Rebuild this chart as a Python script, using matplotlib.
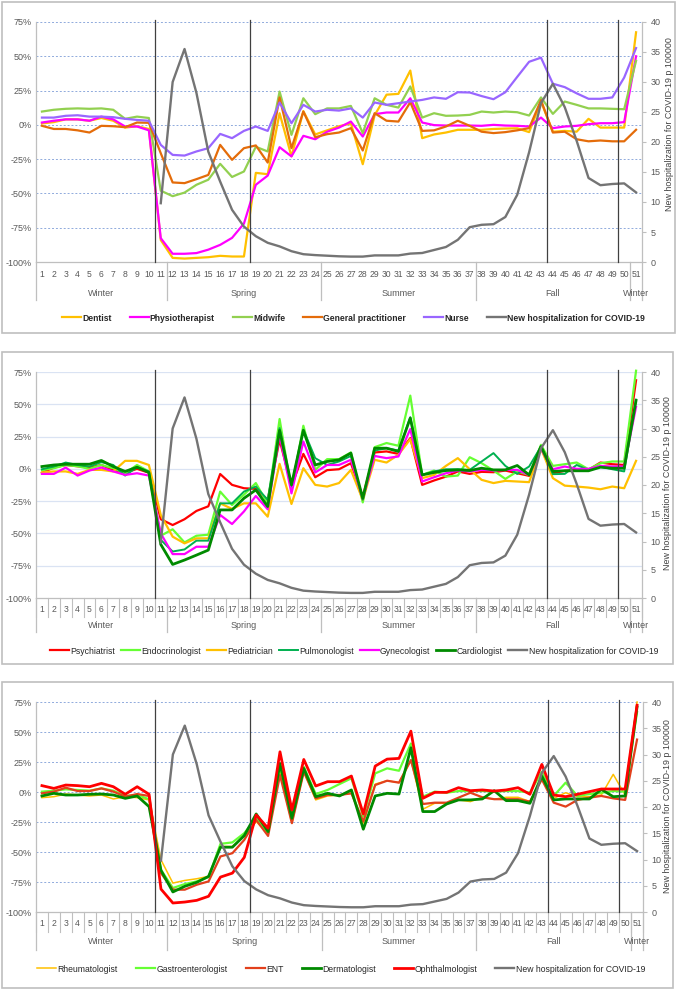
import numpy as np
import matplotlib
matplotlib.use('Agg')
import matplotlib.pyplot as plt
import matplotlib.transforms as mtransforms
from matplotlib.patches import Rectangle

plt.rcParams['font.family'] = ['Liberation Sans', 'DejaVu Sans']

W, H = 678, 991
nan = np.nan

# ---- data ----
weeks = list(range(1, 52))
seasons = ['Winter', 'Spring', 'Summer', 'Fall', 'Winter']
season_edges = [0.5, 11.5, 24.5, 37.5, 50.5, 51.5]
cut_weeks = [10.5, 18.5, 43.5, 49.5]
hosp_label = 'New hospitalization for COVID-19'
hosp_axis_label = 'New hospitalization for COVID-19 p 100000'

hospitalization = [nan] * 10 + [
    9.8, 30.0, 35.5, 28.2, 18.4, 13.4, 8.7, 5.9, 4.3, 3.2,
    2.6, 1.8, 1.3, 1.15, 1.05, 0.95, 0.9, 0.9, 1.1, 1.1,
    1.1, 1.4, 1.5, 2.0, 2.5, 3.7, 5.8, 6.2, 6.3, 7.5,
    11.2, 18.3, 26.5, 29.7, 25.8, 20.2, 14.0, 12.8, 13.0, 13.1,
    11.6]

# panel 1
dentist = [1, 2, 4, 4, 3, 5, 3, -2, -1, -3,
           -84, -97, -97.5, -97, -96.5, -95.5, -96, -96, -35, -36,
           8.5, -23, 10, -7, -4, -1, 1, -28.7, 7, 22,
           22.6, 39.6, -9.7, -7, -5.6, -3.6, -3.6, -3.6, -3, -2.7,
           -2.5, -5.3, 17, -5, -4.4, -5, 4.4, -2, -2, -2,
           67.5]
physiotherapist = [1.7, 3, 4, 4, 3, 6, 4, -1.2, -1.2, -4,
                   -82.6, -94, -94, -93.5, -91, -87.5, -82.4, -72, -43.7, -37,
                   -16.3, -23, -8, -10.5, -5, -2, 2.4, -8.5, 7.8, 9,
                   9, 19.4, 1.7, -0.2, -0.5, -0.5, -0.5, -0.7, 0, -0.5,
                   -0.7, -1.2, 5.3, -2.4, -1.2, -0.7, 0.5, 1.2, 1.2, 2,
                   50]
midwife = [9.7, 11, 11.7, 12, 11.7, 12, 11, 4.4, 6, 5,
           -48, -52, -49.4, -43.7, -40, -28.4, -38, -34, -16, -19.4,
           24.3, -7.3, 19.4, 7.8, 12, 12, 13.8, -6, 19.4, 14.6,
           12.6, 28, 5.3, 8.5, 6.6, 6.8, 7.3, 9.7, 9, 9.7,
           9.2, 6.8, 20, 8, 17, 14.6, 12, 12, 11.7, 11.4,
           46.7]
general_practitioner = [-0.7, -3, -3, -4, -5.6, -0.7, -1, -1.7, 1.7, 1.5,
                        -20.7, -42, -42.5, -39.6, -36.5, -14.6, -25.5, -17, -15, -27.5,
                        20, -17, 9.7, -9, -6.8, -5.6, -2.4, -18.7, 8.5, 3,
                        2.4, 16.5, -4.4, -4, -1.2, 3, -0.7, -5, -6, -5.3,
                        -4, -2.4, 18, -5.6, -5, -10.5, -12, -11.4, -12, -12,
                        -3.6]
nurse = [5.3, 5.3, 6.6, 7, 6, 6, 5.6, 4.4, 3.6, 3,
         -14.6, -21.9, -22.4, -19.4, -17, -6.6, -9.7, -4.4, -1.2, -4.4,
         16.3, 1.2, 14.6, 9.7, 11, 10.4, 12, 5.3, 16.3, 14.6,
         15.8, 17, 18.2, 20, 19, 23.8, 23.6, 21, 18.7, 23.8,
         35, 46, 49, 30, 27.5, 23, 19, 19, 20, 34.5,
         56]

# panel 2
psychiatrist = [-3, 1, 3, 2, 1, 3, -1, -3, 0, -3,
                -39, -43.5, -39, -32.6, -29, -4, -12.4, -15, -15.5, -24,
                22.5, -13.7, 11.6, -6.5, -1, -0.3, 4.4, -21.5, 12.7, 13.5,
                11.6, 23.8, -12.4, -9, -6, -2, -3.9, -2.3, -2.6, -1.3,
                -3.4, -5.4, 16, -3.4, -1.5, -0.8, -0.8, 4.9, 3.6, 3,
                68.6]
endocrinologist = [-1, 0.5, 3, 2, 0, 3, 0.5, -3.4, 3, -2,
                   -51.8, -46.8, -57, -51.8, -51, -17.6, -28, -20, -11, -27,
                   38.6, -16.3, 33.4, -0.8, 7.5, 7.5, 12.7, -26, 16.8, 20,
                   17.9, 56.7, -4.7, -1.3, -6, -5.2, 9, 4.4, -1.3, -7.8,
                   -2, -4.7, 18.6, 2.3, 3.6, 4.9, -0.3, 4.4, 5.7, 5.7,
                   76]
pediatrician = [-2.8, -2, -2, -3.9, -0.8, -0.8, -2, 6.2, 6.2, 3,
                -35.7, -52.5, -57.7, -53.8, -53.8, -26.7, -31, -26.7, -26.7, -37,
                3.9, -27.2, 0.5, -12.4, -13.7, -11, -0.8, -24, 7, 4.9,
                10.9, 23, -7.2, -4.7, 2.3, 8.3, -0.3, -8.5, -11, -9.3,
                -9.8, -10.3, 16, -7.2, -13, -13.7, -14.5, -15.8, -13.7, -15,
                6.2]
pulmonologist = [-0.3, 1.8, 4.9, 3, 1.8, 5.2, 3, -5.2, 1.3, -2,
                 -55, -64, -62.4, -55.6, -55.6, -26.7, -26.7, -17.6, -13.7, -24,
                 31.6, -13.7, 30.3, 8.3, 3, 5.7, 10, -24, 14.2, 16,
                 14.2, 40, -4.7, -2, -0.3, -0.3, -0.8, 5.7, 12.2, 2.3,
                 -3.9, 1.8, 17.3, -4.1, -3.9, 3, -0.8, 1.8, -0.3, -2,
                 53.6]
gynecologist = [-3.9, -3.9, 1, -5.2, -1.3, 1, -2, -4.7, -3.4, -5.2,
                -50, -66, -66, -60.3, -60.3, -35.7, -42.7, -33, -21, -31.3,
                26.4, -19, 21.2, -2.8, 3, 3, 7, -22.8, 10, 8.3,
                9.6, 30.8, -9.8, -6.5, -3.4, -1.3, -2, -0.8, -1.3, -0.8,
                -0.8, -4.7, 15.5, -0.3, 1.8, 0, 0, 2.3, 1.8, 1.8,
                48]
cardiologist = [1.8, 3, 3.6, 3.6, 3.6, 6.5, 1.8, -2, 1.3, -2.8,
                -58.5, -74, -70.6, -66.8, -62.9, -31.8, -31.8, -22.8, -16.3, -29.2,
                29.8, -12.4, 29.8, 3, 5.7, 7, 12.2, -22.8, 16, 16,
                13.5, 39.3, -4.7, -2.8, -1.3, -0.8, -1.3, 0.5, -0.8, -0.8,
                2.6, -4.7, 17.3, -2, -1.5, -1.5, -1.5, 1.3, 0.5, 0.5,
                53]

# panel 3
rheumatologist = [-4.7, -3.9, -1.7, -2.5, -3.3, -2.5, -5.8, -3.9, -4.7, -6.6,
                  -56.5, -75.9, -73.7, -72.3, -70.3, -45.4, -45.4, -37, -24.6, -34.9,
                  16.9, -26, 16.9, -6.6, -3.3, -2.5, -1.1, -26, 6.6, 9.4,
                  7.8, 26.6, -14.4, -9.4, -9.4, -6.6, -8, -4.4, -6, -4.4,
                  -4.4, -8, 11.4, -5.3, -0.6, -3.9, -3.9, -2.5, 14.7, -2.5,
                  75]
gastroenterologist = [0.3, 1.1, 2.2, 1.7, 1.1, 3, 1.1, -3.3, -2.5, -6,
                      -64.8, -80, -76.7, -74.5, -70.9, -43.2, -42, -34.3, -21.9, -34.3,
                      21, -17.7, 21, -1.7, 1.7, 6.6, 11.4, -20.5, 15.5, 19.7,
                      17.7, 40.4, -3.9, 0.3, -0.6, 0.8, 0.8, 0.8, 0.3, 0.8,
                      0.8, -0.6, 16.9, -3.3, 7.8, -3.3, -1.7, -0.6, 0.8, 0.3,
                      66.7]
ent = [-1.1, 0.3, 3.6, 0.8, 0.8, 3, 0.3, -3.9, -1.7, -3.3,
       -67.6, -81.4, -81.4, -77.3, -74.5, -53.7, -51, -39.9, -23.3, -36.6,
       14.1, -26, 16.9, -5.3, -2.5, -2.5, -1.1, -24.6, 5.8, 9.4,
       7.8, 26.6, -10, -8.9, -8.9, -4.7, -0.6, -4.4, -6, -6,
       -6, -8, 10.5, -8.9, -12.2, -6.6, -4.7, -3.3, -5.3, -6.6,
       43.7]
dermatologist = [-3.3, -1.1, -2.5, -2.5, -1.9, -1.7, -2.5, -5.3, -3.3, -12.2,
                 -65.3, -83.3, -78.6, -75.3, -70.3, -46, -46, -36.3, -18.3, -33,
                 23.8, -21.9, 19.7, -3.9, -1.1, -3.3, 1.7, -31, -3.3, -1.1,
                 -1.7, 36.8, -16.3, -16.3, -10, -6.6, -6.6, -5.8, 1.1, -7.2,
                 -7.2, -9.4, 13.3, -6.6, -5.8, -5.8, -5.8, 2.2, -3.9, -3.3,
                 70.9]
ophthalmologist = [5.3, 3, 5.8, 5.3, 4.4, 7.2, 4.4, -1.9, 4.4, -1.9,
                   -80.9, -92.5, -91.7, -90.3, -86.9, -70.9, -67.6, -54.5, -19.1, -30.2,
                   33.5, -15, 27.1, 5, 8.6, 8.6, 13.3, -18.3, 21.6, 27.4,
                   28, 50.7, -5.3, -0.3, -0.3, 3.6, 1.1, 1.7, 0.8, 1.7,
                   3.6, -1.9, 23, -2.5, -3.9, -1.9, 0.3, 2.5, 2.5, 2.5,
                   72.3]

panels = [
    dict(names=['Dentist', 'Physiotherapist', 'Midwife', 'General practitioner', 'Nurse'],
         values=[dentist, physiotherapist, midwife, general_practitioner, nurse],
         colors=['#FFC000', '#FF00FF', '#92D050', '#E46C0A', '#9966FF'],
         widths=[1.6, 1.6, 1.6, 1.6, 1.6],
         plot=(36, 22, 642, 262), box=(2, 2, 675, 333),
         num_y=275, season_y=293, season_bot=300, tick_bot=None,
         legend=(62, 645, 318), bold=True, ylab=(670, 0.575),
         grid=dict(color='#8FAADC', ls=(0, (2, 2)), lw=0.7)),
    dict(names=['Psychiatrist', 'Endocrinologist', 'Pediatrician', 'Pulmonologist',
                'Gynecologist', 'Cardiologist'],
         values=[psychiatrist, endocrinologist, pediatrician, pulmonologist,
                 gynecologist, cardiologist],
         colors=['#FF0000', '#66FF33', '#FFC000', '#00B050', '#FF00FF', '#008A00'],
         widths=[1.6, 1.6, 1.6, 1.4, 1.6, 2.0],
         plot=(36, 372, 642, 598), box=(2, 352, 673, 664),
         num_y=610, season_y=626, season_bot=632, tick_bot=617,
         legend=(50, 658, 651), bold=False, ylab=(667, 0.51),
         grid=dict(color='#DAE3F3', ls='-', lw=0.9)),
    dict(names=['Rheumatologist', 'Gastroenterologist', 'ENT', 'Dermatologist',
                'Ophthalmologist'],
         values=[rheumatologist, gastroenterologist, ent, dermatologist, ophthalmologist],
         colors=['#FFC000', '#66FF33', '#E2401C', '#008A00', '#FF0000'],
         widths=[1.1, 1.6, 1.6, 2.0, 2.0],
         plot=(36, 702, 643, 912), box=(2, 682, 673, 988),
         num_y=924, season_y=941, season_bot=950, tick_bot=932,
         legend=(37, 645, 969), bold=False, ylab=(668, 0.505),
         grid=dict(color='#8FAADC', ls=(0, (2, 2)), lw=0.7)),
]

GRAY = '#BFBFBF'
TXT = '#595959'
LEG_SIZE = 6.2


def fy(py):
    return 1 - py / H


def add_legend(handles, lx0, lx1, ly, bold, colsp):
    prop = {'size': LEG_SIZE, 'weight': 'bold' if bold else 'normal'}
    return fig.legend(handles, [h.get_label() for h in handles], loc='center',
                      bbox_to_anchor=((lx0 + lx1) / 2 / W, fy(ly)),
                      ncol=len(handles), frameon=False, prop=prop, handlelength=2.2,
                      handletextpad=0.15, columnspacing=colsp, labelcolor='#262626',
                      borderpad=0, borderaxespad=0)


fig = plt.figure(figsize=(W / 100, H / 100), dpi=100)

legends = []
for p in panels:
    bx0, by0, bx1, by1 = p['box']
    fig.patches.append(Rectangle((bx0 / W, fy(by1)), (bx1 - bx0) / W, (by1 - by0) / H,
                                 transform=fig.transFigure, fill=False,
                                 edgecolor=GRAY, lw=1.2))
    x0, y0, x1, y1 = p['plot']
    ax = fig.add_axes([x0 / W, fy(y1), (x1 - x0) / W, (y1 - y0) / H])
    ax.set_xlim(0.5, 51.5)
    ax.set_ylim(-100, 75)
    ax.set_yticks(range(-100, 76, 25))
    ax.set_yticklabels([f'{v}%' for v in range(-100, 76, 25)])
    ax.tick_params(axis='y', length=0, labelsize=6.5, pad=3, labelcolor=TXT)
    ax.set_xticks([])
    for v in range(-75, 76, 25):
        ax.axhline(v, zorder=0, **p['grid'])
    for s in ['top', 'right']:
        ax.spines[s].set_visible(False)
    for s in ['left', 'bottom']:
        ax.spines[s].set_color(GRAY)
        ax.spines[s].set_linewidth(0.9)

    handles = []
    for name, vals, c, lw in zip(p['names'], p['values'], p['colors'], p['widths']):
        ln, = ax.plot(weeks, vals, color=c, lw=lw, label=name, clip_on=False)
        handles.append(ln)

    ax2 = ax.twinx()
    ax2.set_ylim(0, 40)
    ax2.set_yticks(range(0, 41, 5))
    ax2.tick_params(axis='y', length=3, color=GRAY, labelsize=6.5, pad=3, labelcolor=TXT)
    for s in ['top', 'left', 'bottom']:
        ax2.spines[s].set_visible(False)
    ax2.spines['right'].set_color(GRAY)
    ax2.spines['right'].set_linewidth(0.9)
    hl, = ax2.plot(weeks, hospitalization, color='#747474', lw=1.7, label=hosp_label)
    handles.append(hl)
    ax2.set_ylabel(hosp_axis_label, fontsize=6.4, color='#404040', va='center')
    lab_x, lab_y = p['ylab']
    ax2.yaxis.set_label_coords((lab_x - x0) / (x1 - x0), lab_y)

    for xc in cut_weeks:
        ax2.plot([xc, xc], [0, 1.01], color='#404040', lw=0.9,
                 transform=ax2.get_xaxis_transform(), clip_on=False)

    tr = mtransforms.blended_transform_factory(ax.transData, fig.transFigure)
    for w in weeks:
        ax.text(w, fy(p['num_y']), str(w), transform=tr, ha='center', va='center',
                fontsize=6.2, color=TXT)
    if p['tick_bot'] is not None:
        for xe in np.arange(0.5, 52, 1.0):
            ax.plot([xe, xe], [fy(y1), fy(p['tick_bot'])], transform=tr,
                    color=GRAY, lw=0.8, clip_on=False)
    for xe in season_edges:
        ax.plot([xe, xe], [fy(y1), fy(p['season_bot'])], transform=tr,
                color=GRAY, lw=0.9, clip_on=False)
    for name, a, b in zip(seasons, season_edges[:-1], season_edges[1:]):
        ax.text((a + b) / 2, fy(p['season_y']), name, transform=tr, ha='center',
                va='center', fontsize=6.5, color=TXT)

    lx0, lx1, ly = p['legend']
    leg = add_legend(handles, lx0, lx1, ly, p['bold'], 1.0)
    legends.append((leg, handles, p))

# stretch each legend to the width it has in the reference
fig.canvas.draw()
fs_px = LEG_SIZE * 100 / 72
for leg, handles, p in legends:
    lx0, lx1, ly = p['legend']
    w = leg.get_window_extent().width
    gaps = len(handles) - 1
    colsp = max(0.2, 1.0 + (lx1 - lx0 - w) / (gaps * fs_px))
    leg.remove()
    add_legend(handles, lx0, lx1, ly, p['bold'], colsp)

fig.savefig('out.png', dpi=100)
